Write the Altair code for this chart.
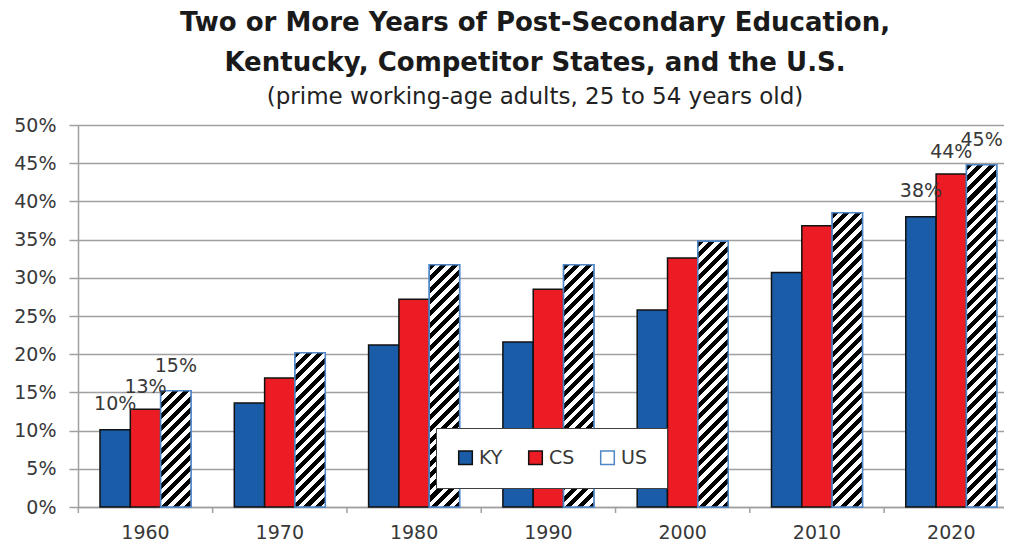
import math
import altair as alt
import pandas as pd

# ---------------- data ----------------
years = ["1960", "1970", "1980", "1990", "2000", "2010", "2020"]
series = ["KY", "CS", "US"]
ky_values = [10.1, 13.6, 21.2, 21.6, 25.8, 30.7, 38.0]
cs_values = [12.8, 16.9, 27.2, 28.5, 32.6, 36.8, 43.6]
us_values = [15.2, 20.2, 31.7, 31.7, 34.8, 38.5, 44.8]
labeled_years = ["1960", "2020"]
y_tick_values = [0, 5, 10, 15, 20, 25, 30, 35, 40, 45, 50]

title_lines = ["Two or More Years of Post-Secondary Education,",
               "Kentucky, Competitor States, and the U.S."]
subtitle_text = "(prime working-age adults, 25 to 54 years old)"

# ---------------- styling ----------------
FONT = "DejaVu Sans"
W, H = 926, 382
P_INNER = 0.3224
P_OUTER = 0.1087
ALIGN = 0.753
KY_COLOR = "#1b5ca8"
CS_COLOR = "#ec1c24"
US_STROKE = "#4f86c6"
GRID = "#a0a0a0"
TXT = "#383838"
LABEL_DY = {"KY": -20, "CS": -16, "US": -19}

rows = []
for i, yr in enumerate(years):
    for s, vals in zip(series, [ky_values, cs_values, us_values]):
        rows.append({"year": yr, "series": s, "value": vals[i],
                     "label": f"{round(vals[i])}%"})
df = pd.DataFrame(rows)

step = W / (len(years) - P_INNER + 2 * P_OUTER)
bandwidth = step * (1 - P_INNER)
bar_w = bandwidth / len(series)
half_gap = P_INNER * step / 2

x_scale = alt.Scale(paddingInner=P_INNER, paddingOuter=P_OUTER, align=ALIGN)
xo_scale = alt.Scale(domain=series, paddingInner=0, paddingOuter=0)
y_scale = alt.Scale(domain=[0, 50], nice=False)


def hatch(v, period=8.2, black_frac=0.52):
    h = v / 50 * H
    r = h / bar_w
    a = (1 + r) / (1 + r * r)
    D = (bar_w + h) / math.sqrt(2)
    p = period / D
    fb = black_frac * p
    stops = []
    t = 0.0
    while t < 1:
        s0 = round(t, 5)
        s1 = round(min(t + fb, 1), 5)
        s2 = round(min(t + p, 1), 5)
        stops += [{"offset": s0, "color": "#000000"},
                  {"offset": s1, "color": "#000000"},
                  {"offset": s1, "color": "#ffffff"},
                  {"offset": s2, "color": "#ffffff"}]
        t += p
    return {"gradient": "linear", "stops": stops,
            "x1": 0, "y1": 0, "x2": round(a, 6), "y2": round(a * r, 6)}


x_axis = alt.Axis(title=None, labelAngle=0, ticks=False,
                  labelPadding=16, labelFontSize=19, labelFont=FONT,
                  labelColor=TXT, domainColor=GRID, domainWidth=1.5,
                  grid=False)
y_axis = alt.Axis(title=None, values=y_tick_values,
                  labelExpr="datum.value + '%'", labelOverlap=False,
                  labelFontSize=19, labelFont=FONT, labelColor=TXT,
                  labelPadding=13, tickSize=9, tickColor=GRID,
                  tickWidth=1.5, domainColor=GRID, domainWidth=1.5,
                  grid=True, gridColor=GRID, gridWidth=1.5)

x_enc = alt.X("year:N", scale=x_scale, sort=years, axis=x_axis)
xo_enc = alt.XOffset("series:N", scale=xo_scale, sort=series)
y_enc = alt.Y("value:Q", scale=y_scale, axis=y_axis)

legend = alt.Legend(title=None, orient="none", legendX=358, legendY=303,
                    direction="horizontal", columns=3, symbolType="square",
                    symbolSize=185, symbolStrokeWidth=1.5, labelFontSize=19,
                    labelFont=FONT, labelColor=TXT, columnPadding=22,
                    padding=20, strokeColor="#404040", fillColor="white",
                    labelOffset=4)

base = alt.Chart(df).mark_bar(strokeWidth=1.5).encode(
    x=x_enc,
    xOffset=xo_enc,
    y=y_enc,
    fill=alt.Fill("series:N", scale=alt.Scale(domain=series,
                  range=[KY_COLOR, CS_COLOR, "#ffffff"]), legend=legend),
    stroke=alt.Stroke("series:N", scale=alt.Scale(domain=series,
                      range=["#111111", "#111111", US_STROKE]), legend=legend),
)

layers = [base]
for yr, v in zip(years, us_values):
    layers.append(
        alt.Chart(df).transform_filter(
            (alt.datum.series == "US") & (alt.datum.year == yr)
        ).mark_bar(fill=hatch(v), stroke=US_STROKE, strokeWidth=1.5).encode(
            x=x_enc, xOffset=xo_enc, y=y_enc,
        )
    )

for s in series:
    layers.append(
        alt.Chart(df).transform_filter(
            alt.FieldOneOfPredicate(field="year", oneOf=labeled_years)
        ).transform_filter(alt.datum.series == s).mark_text(
            font=FONT, fontSize=19, color=TXT, baseline="alphabetic",
            dy=LABEL_DY[s]).encode(
            x=x_enc, xOffset=xo_enc, y=y_enc, text="label:N",
        )
    )

ticks = alt.Chart(pd.DataFrame({"year": years})).mark_rule(
    color=GRID, strokeWidth=1.5, xOffset=-half_gap).encode(
    x=alt.X("year:N", scale=x_scale, sort=years, bandPosition=0, axis=x_axis),
    y=alt.value(H),
    y2=alt.value(H + 6),
)
layers.append(ticks)

chart = alt.layer(*layers).properties(
    width=W, height=H,
    padding={"left": 5, "top": 2, "right": 0, "bottom": 0},
    title=alt.TitleParams(
        text=title_lines, subtitle=subtitle_text, font=FONT, fontSize=26,
        fontWeight="bold", color="#1a1a1a", lineHeight=40, anchor="middle",
        dx=-6, subtitleFont=FONT, subtitleFontSize=23, subtitleColor="#222222",
        subtitlePadding=10, offset=7,
    ),
).configure_view(stroke=None)

chart.save("out.html", embed_options={"renderer": "svg", "actions": False})
